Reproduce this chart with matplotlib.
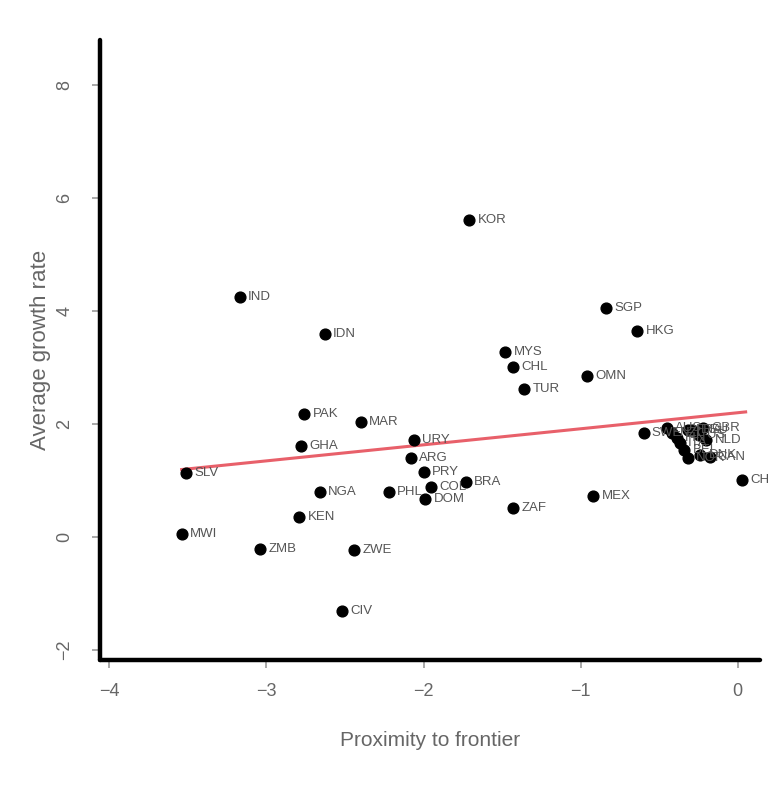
import matplotlib
matplotlib.use("Agg")
import matplotlib.pyplot as plt

countries = ["KOR", "IND", "IDN", "SGP", "HKG", "MYS", "CHL", "TUR", "OMN",
             "PAK", "MAR", "GHA", "SLV", "MWI", "ZMB", "ZWE", "CIV", "KEN",
             "NGA", "PHL", "ZAF", "MEX", "BRA", "CHE",
             "URY", "ARG", "PRY", "COL", "DOM",
             "SWE", "AUS", "NZL", "FIN", "ITA", "BEL", "NOR", "FRA", "DEU",
             "US", "GBR", "NLD", "DNK", "CAN"]
proximity = [-1.71, -3.17, -2.63, -0.84, -0.64, -1.48, -1.43, -1.36, -0.96,
             -2.76, -2.40, -2.78, -3.51, -3.54, -3.04, -2.44, -2.52, -2.79,
             -2.66, -2.22, -1.43, -0.92, -1.73, 0.03,
             -2.06, -2.08, -2.00, -1.95, -1.99,
             -0.60, -0.45, -0.42, -0.39, -0.37, -0.34, -0.32, -0.32, -0.29,
             -0.25, -0.22, -0.20, -0.24, -0.18]
growth = [5.61, 4.25, 3.59, 4.05, 3.65, 3.27, 3.01, 2.62, 2.85,
          2.18, 2.04, 1.61, 1.13, 0.05, -0.21, -0.23, -1.31, 0.35,
          0.80, 0.80, 0.50, 0.73, 0.97, 1.01,
          1.72, 1.40, 1.15, 0.88, 0.67,
          1.84, 1.93, 1.84, 1.75, 1.66, 1.54, 1.40, 1.89, 1.89,
          1.80, 1.93, 1.72, 1.45, 1.42]
fit_x = [-3.54, 0.05]
fit_y = [1.19, 2.21]
xticks = [-4, -3, -2, -1, 0]
yticks = [-2, 0, 2, 4, 6, 8]

plt.rcParams['font.family'] = ['Liberation Sans', 'DejaVu Sans']

fig = plt.figure(figsize=(7.69, 7.95), dpi=100)
ax = fig.add_axes([0.130, 0.170, 0.858, 0.780])

ax.scatter(proximity, growth, s=60, color="black", zorder=3, clip_on=False)
for c, x, y in zip(countries, proximity, growth):
    ax.annotate(c, (x, y), xytext=(6, 0), textcoords="offset points",
                va="center", ha="left", fontsize=9.5, color="#555555",
                zorder=4, annotation_clip=False)

ax.plot(fit_x, fit_y, color="#e8606a", lw=2.2, zorder=2)

ax.set_xlim(-4.06, 0.14)
ax.set_ylim(-2.18, 8.8)
ax.set_xticks(xticks)
ax.set_yticks(yticks)
ax.set_xticklabels([str(t) if t >= 0 else "\u2212" + str(-t) for t in xticks])
ax.set_yticklabels([str(t) if t >= 0 else "\u2212" + str(-t) for t in yticks],
                   rotation=90, va="center")

for side in ["top", "right"]:
    ax.spines[side].set_visible(False)
for side in ["left", "bottom"]:
    ax.spines[side].set_linewidth(3.2)
    ax.spines[side].set_color("black")
    ax.spines[side].set_capstyle("round")

ax.tick_params(axis="both", length=6, width=1.2, color="#999999",
               labelcolor="#666666", labelsize=13)
ax.tick_params(axis="y", pad=13)
ax.tick_params(axis="x", pad=11)

ax.set_xlabel("Proximity to frontier", fontsize=15, color="#666666", labelpad=22)
ax.set_ylabel("Average growth rate", fontsize=16, color="#666666", labelpad=4)

fig.savefig("out.png", dpi=100, facecolor="white")
